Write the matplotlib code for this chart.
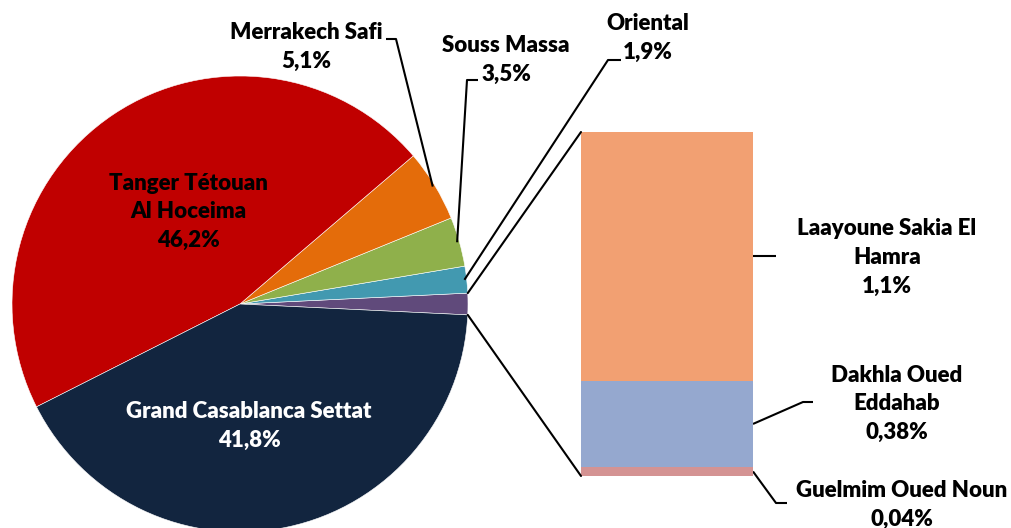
import numpy as np
import matplotlib
matplotlib.use('Agg')
import matplotlib.pyplot as plt
from matplotlib.patches import ConnectionPatch

# ---- data (shares in %)
pie_names = ['Autres', 'Oriental', 'Souss Massa', 'Merrakech Safi',
             'Tanger Tétouan\nAl Hoceima', 'Grand Casablanca Settat']
pie_labels = ['', '1,9%', '3,5%', '5,1%', '46,2%', '41,8%']
pie_vals = [1.52, 1.9, 3.5, 5.1, 46.2, 41.8]
pie_cols = ['#604A7B', '#4299B0', '#8FB04B', '#E46C0A', '#C00000', '#12253F']

bar_names = ['Guelmim Oued Noun', 'Dakhla Oued\nEddahab', 'Laayoune Sakia El\nHamra']
bar_labels = ['0,04%', '0,38%', '1,1%']
bar_vals = [0.04, 0.38, 1.1]
bar_cols = ['#D49393', '#95A8CF', '#F2A072']

W, H = 1011, 528
plt.rcParams['font.family'] = ['Lato', 'DejaVu Sans']
fs = 16
lsp = 1.46
fw = 'heavy'

fig = plt.figure(figsize=(W/100, H/100), dpi=100)
ax = fig.add_axes([0, 0, 1, 1])
ax.set_xlim(0, W)
ax.set_ylim(H, 0)   # pixel-like coordinates, y down
ax.axis('off')

cx, cy, R = 240, 304, 228
other_deg = pie_vals[0] / sum(pie_vals) * 360.
# y axis inverted -> clockwise in data = counterclockwise on screen
wedges, _ = ax.pie(pie_vals, colors=pie_cols, center=(cx, cy), radius=R,
                   startangle=other_deg/2., counterclock=False,
                   wedgeprops=dict(edgecolor='white', linewidth=0.4))
ax.set_xlim(0, W)
ax.set_ylim(H, 0)
ax.set_aspect('equal')

def edge_pt(w, frac=0.99, which='mid'):
    if which == 'mid':
        a = np.deg2rad((w.theta1 + w.theta2) / 2.)
    elif which == 'lo':
        a = np.deg2rad(w.theta1)
    else:
        a = np.deg2rad(w.theta2)
    return cx + R*frac*np.cos(a), cy + R*frac*np.sin(a)

# ---- stacked bar of the "other" slice
x0, x1, y0, y1 = 581, 753, 132, 476
axb = fig.add_axes([x0/W, 1 - y1/H, (x1-x0)/W, (y1-y0)/H])
bottom = 0
for v, c in zip(bar_vals, bar_cols):
    axb.bar(0, v, width=1, bottom=bottom, color=c, edgecolor='none')
    bottom += v
axb.set_xlim(-0.5, 0.5)
axb.set_ylim(0, sum(bar_vals))
axb.axis('off')

# connectors from the purple slice to the bar
wo = wedges[0]
for which, yb in [('hi', 0.0), ('lo', sum(bar_vals))]:
    px, py = edge_pt(wo, 1.0, which)
    con = ConnectionPatch(xyA=(px, py), coordsA=ax.transData,
                          xyB=(-0.5, yb), coordsB=axb.transData,
                          color='black', lw=1.5)
    fig.add_artist(con)

def to_main(x, y):
    return ax.transData.inverted().transform(axb.transData.transform((x, y)))

# ---- labels inside the pie
ax.text(188, 212, pie_names[4] + '\n' + pie_labels[4], ha='center', va='center',
        fontsize=fs, fontweight=fw, color='black', linespacing=lsp)
ax.text(249, 426, pie_names[5] + '\n' + pie_labels[5], ha='center', va='center',
        fontsize=fs, fontweight=fw, color='white', linespacing=lsp)

# ---- outside pie labels with leaders
out = [  # index, text centre, elbow points
    (3, (306, 46.5), [(386, 39), (396, 39)]),
    (2, (506, 60), [(478, 80), (467, 80)]),
    (1, (648, 37.5), [(621, 60), (608, 60)]),
]
for i, (tx, ty), pts in out:
    ax.text(tx, ty, pie_names[i] + '\n' + pie_labels[i], ha='center', va='center',
            fontsize=fs, fontweight=fw, linespacing=lsp)
    ex, ey = edge_pt(wedges[i], 0.99)
    xs = [p[0] for p in pts] + [ex]
    ys = [p[1] for p in pts] + [ey]
    ax.plot(xs, ys, color='black', lw=1.5, solid_capstyle='butt')

# ---- bar labels with leaders
mids = np.cumsum(bar_vals) - np.array(bar_vals)/2.
bar_txt = [((902, 505), [(776, 503), (787, 503)]),
           ((897, 404), [(803, 402), (813, 402)]),
           ((887, 257.5), [(776, 257)])]
for k, ((tx, ty), pts) in enumerate(bar_txt):
    ax.text(tx, ty, bar_names[k] + '\n' + bar_labels[k], ha='center', va='center',
            fontsize=fs, fontweight=fw, linespacing=lsp)
    sx, sy = to_main(0.5, mids[k])
    if k == 2:
        pts = [(p[0], sy) for p in pts]
    xs = [sx] + [p[0] for p in pts]
    ys = [sy] + [p[1] for p in pts]
    ax.plot(xs, ys, color='black', lw=1.5, solid_capstyle='butt')

fig.savefig('out.png', dpi=100)
